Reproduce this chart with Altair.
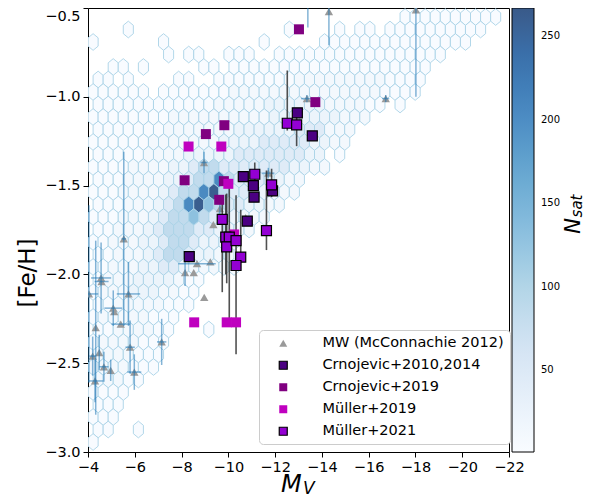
import altair as alt
import pandas as pd

# ---------------- hexbin background (cells) ----------------
HEX_X0 = -4.218      # M_V of the first column centre on odd rows
HEX_DX = 0.4303      # column spacing (M_V)
HEX_Y0 = -0.4803     # [Fe/H] of row 0
HEX_DY = 0.070383    # half-row spacing ([Fe/H])
HEX_LEVEL_COUNTS = {"1": 3, "2": 11, "3": 22, "4": 45, "5": 85,
                    "6": 130, "7": 205, "8": 235, "9": 262}
# (row, first column, levels) ; "." = empty cell
HEX_ROWS = [
    (1, 31, "1111111111"),
    (2, 3, "1...............1....1.11.1111111111"),
    (3, 0, "1......1.........1.....111111111111111"),
    (4, 7, "1.11..111..11111111111111111"),
    (5, 2, "11.1.....11.11111111111111111111"),
    (6, 0, "11.1....11..111111112222222221111"),
    (7, 0, "111111.11111112222222222222221111"),
    (8, 0, "11111111111122222333333222211.1"),
    (9, 0, "1111111122222222223333333222"),
    (10, 0, "11111112222222333333444222"),
    (11, 0, "11111122222223333444443322"),
    (12, 0, "11111222233333444444433.1"),
    (13, 0, "111122223345544444443322"),
    (14, 0, "111222233455754443322"),
    (15, 0, "111222234557954433222"),
    (16, 0, "1112223457965443322"),
    (17, 0, "111222345565433222"),
    (18, 0, "1122234555443322"),
    (19, 0, "112223345543322"),
    (20, 0, "11222345543322"),
    (21, 0, "112223344322211"),
    (22, 0, "12223333211"),
    (23, 0, "12223332211"),
    (24, 0, "1122222111"),
    (25, 0, "122222111"),
    (26, 0, "11222211...1"),
    (27, 0, "12222111"),
    (28, 0, "2222111"),
    (29, 0, "2222111"),
    (30, 0, "22211"),
    (31, 0, "1111"),
    (32, 0, "111"),
    (33, 0, "111"),
    (34, 0, "11..1"),
    (35, 0, "1"),
]

# ---------------- Milky Way satellites (McConnachie 2012) ----------------
MW_MV = [-18.02, -16.73, -14.30, -13.40, -13.36, -8.96, -11.71, -5.53, -9.64, -9.36,
         -10.74, -8.66, -9.23, -8.15, -8.52, -8.97, -4.56, -4.58, -5.73, -4.04,
         -5.08, -5.12, -5.40, -4.33, -5.80, -7.15, -4.48, -4.20, -4.68, -4.97,
         -4.30, -5.98]
MW_FEH = [-0.51, -1.01, -0.52, -0.45, -1.01, -1.37, -1.43, -1.80, -1.63, -1.72,
          -1.68, -1.94, -1.93, -1.99, -1.99, -2.13, -2.02, -2.04, -2.11, -2.11,
          -2.19, -2.21, -2.28, -2.30, -2.41, -2.38, -2.44, -2.46, -2.52, -2.54,
          -2.60, -2.55]
MW_MV_ERR = [0, 0.15, 0, 0, 0.25, 0.15, 0.26, 0.1, 0, 0,
             0.15, 0.8, 0, 0, 0, 0, 0.43, 0.3, 0.5, 0.4,
             0.38, 0, 0.4, 0, 0.2, 0.2, 0, 0.15, 0.2, 0,
             0.35, 0.3]
MW_FEH_ERR = [0.49, 0.02, 0.19, 0.16, 0.02, 0.06, 0.03, 0.49, 0.05, 0,
              0, 0, 0, 0.075, 0, 0, 0.2, 0, 0.18, 0.5,
              0.1, 0, 0, 0.49, 0.15, 0.13, 0.1, 0.11, 0.085, 0.06,
              0.12, 0.1]

# ---------------- other samples ----------------
C14_MV = [-10.64, -11.07, -11.10, -11.89, -12.95, -13.59, -10.81, -8.33]
C14_FEH = [-1.45, -1.50, -1.565, -1.53, -1.09, -1.22, -1.70, -1.90]

C19_MV = [-13.02, -13.72, -9.83, -9.04, -8.13, -9.61, -9.81]
C19_FEH = [-0.62, -1.03, -1.16, -1.21, -1.47, -1.58, -1.475]

M19_MV = [-8.30, -9.70, -8.54, -9.93, -10.33, -10.00, -10.25]
M19_FEH = [-1.28, -1.28, -2.27, -2.27, -2.27, -1.49, -1.775]

M21_MV = [-11.13, -11.85, -12.52, -12.92, -9.74, -9.89, -10.04, -9.93, -10.33, -10.53, -10.33, -11.63]
M21_FEH = [-1.436, -1.496, -1.149, -1.158, -1.69, -1.79, -1.79, -1.845, -1.81, -1.903, -1.95, -1.753]
M21_FEH_LO = [-1.51, -1.565, -1.19, -1.278, -2.10, -2.00, -2.29, -2.05, -1.81, -1.92, -2.45, -1.863]
M21_FEH_HI = [-1.37, -1.405, -0.852, -1.10, -1.60, -1.55, -1.47, -1.545, -1.81, -1.636, -1.555, -1.415]

SURVEYS = ["MW (McConnachie 2012)", "Crnojevic+2010,2014", "Crnojevic+2019", "Müller+2019", "Müller+2021"]
SURVEY_FILLS = ["#9a9a9a", "#4b0082", "#800080", "#bf00bf", "#9400d3"]
SURVEY_SHAPES = ["triangle-up", "square", "square", "square", "square"]
SURVEY_STROKES = ["transparent", "black", "transparent", "transparent", "black"]

X_TICKS = [-4, -6, -8, -10, -12, -14, -16, -18, -20, -22]
Y_TICKS = [-3.0, -2.5, -2.0, -1.5, -1.0, -0.5]
CBAR_TICKS = [50, 100, 150, 200, 250]
NSAT_DOMAIN = [1, 267]
# Blues colormap at alpha 0.8 over white
BLUES_ALPHA = ["#f9fcff", "#e5eff9", "#d1e2f2", "#b1d5e7", "#89bede",
               "#68a8d1", "#4d8dc4", "#3974b0", "#395a89"]

# ---------------- build tables ----------------
hex_records = []
for r, start, levels in HEX_ROWS:
    shift = 0.0 if r % 2 == 1 else HEX_DX / 2
    for k, ch in enumerate(levels):
        if ch == ".":
            continue
        col = start + k
        hex_records.append({"MV": HEX_X0 - shift - HEX_DX * col,
                            "FeH": HEX_Y0 - HEX_DY * r,
                            "N": HEX_LEVEL_COUNTS[ch]})
hex_df = pd.DataFrame(hex_records)

mw_df = pd.DataFrame({"MV": MW_MV, "FeH": MW_FEH, "survey": SURVEYS[0]})
mw_xerr = pd.DataFrame([{"MV": m - e, "MV2": m + e, "FeH": f}
                        for m, f, e in zip(MW_MV, MW_FEH, MW_MV_ERR) if e > 0])
mw_yerr = pd.DataFrame([{"MV": m, "FeH": f - e, "FeH2": f + e}
                        for m, f, e in zip(MW_MV, MW_FEH, MW_FEH_ERR) if e > 0])

sq_rows = []
for name, mvs, fehs in [(SURVEYS[1], C14_MV, C14_FEH), (SURVEYS[2], C19_MV, C19_FEH),
                        (SURVEYS[3], M19_MV, M19_FEH), (SURVEYS[4], M21_MV, M21_FEH)]:
    for m, f in zip(mvs, fehs):
        sq_rows.append({"MV": m, "FeH": f, "survey": name})
sq_df = pd.DataFrame(sq_rows)
sq_err = pd.DataFrame([{"MV": m, "FeH": lo, "FeH2": hi}
                       for m, lo, hi in zip(M21_MV, M21_FEH_LO, M21_FEH_HI) if hi > lo])

# ---------------- encodings ----------------
x_scale = alt.Scale(domain=[-22, -4], reverse=True, nice=False, zero=False)
y_scale = alt.Scale(domain=[-3.0, -0.5], nice=False, zero=False)
x_axis = alt.Axis(values=X_TICKS, format="d", title=None, grid=False,
                  labelFlush=False, labelOverlap=False)
y_axis = alt.Axis(values=Y_TICKS, format=".1f", title=None, grid=False,
                  labelFlush=False, labelOverlap=False,
                  labelOffset={"condition": {"test": "datum.value == -0.5", "value": 8},
                               "value": 0})


def X(field):
    return alt.X(f"{field}:Q", scale=x_scale, axis=x_axis)


def Y(field):
    return alt.Y(f"{field}:Q", scale=y_scale, axis=y_axis)


HEX_PATH = "M0,-1L0.604,-0.5L0.604,0.5L0,1L-0.604,0.5L-0.604,-0.5Z"

hexes = alt.Chart(hex_df).mark_point(
    shape=HEX_PATH, size=277.8, filled=True, opacity=1,
    stroke="#a9d2e6", strokeWidth=0.9, clip=True
).encode(
    x=X("MV"), y=Y("FeH"),
    fill=alt.Fill("N:Q",
                  scale=alt.Scale(domain=NSAT_DOMAIN, range=BLUES_ALPHA, clamp=True),
                  legend=alt.Legend(orient="none", legendX=424, legendY=0,
                                    direction="vertical", title=None,
                                    gradientLength=444, gradientThickness=22,
                                    values=CBAR_TICKS, labelFontSize=10,
                                    labelFont="DejaVu Sans", labelColor="black",
                                    labelOffset=7, padding=0,
                                    gradientStrokeColor="black", gradientStrokeWidth=1))
)

legend_def = alt.Legend(orient="none", legendX=171, legendY=322, title=None,
                        fillColor="white", strokeColor="#cccccc", cornerRadius=4,
                        padding=6, labelFontSize=14.5, labelFont="DejaVu Sans",
                        labelColor="black", labelLimit=300, symbolSize=64,
                        symbolOffset=11, labelOffset=32, rowPadding=7,
                        symbolStrokeWidth=1.2)

color_enc = alt.Color("survey:N", scale=alt.Scale(domain=SURVEYS, range=SURVEY_FILLS), legend=legend_def)
shape_enc = alt.Shape("survey:N", scale=alt.Scale(domain=SURVEYS, range=SURVEY_SHAPES), legend=legend_def)
stroke_enc = alt.Stroke("survey:N", scale=alt.Scale(domain=SURVEYS, range=SURVEY_STROKES), legend=legend_def)

mw_pts = alt.Chart(mw_df).mark_point(filled=True, size=70, opacity=1, strokeWidth=1.2, clip=True).encode(
    x=X("MV"), y=Y("FeH"), color=color_enc, shape=shape_enc, stroke=stroke_enc)

mw_xbars = alt.Chart(mw_xerr).mark_rule(color="#1f77b4", opacity=0.55, strokeWidth=1.5, clip=True).encode(
    x=X("MV"), x2="MV2:Q", y=Y("FeH"))
mw_ybars = alt.Chart(mw_yerr).mark_rule(color="#1f77b4", opacity=0.55, strokeWidth=1.5, clip=True).encode(
    x=X("MV"), y=Y("FeH"), y2="FeH2:Q")

sq_bars = alt.Chart(sq_err).mark_rule(color="#333333", opacity=0.85, strokeWidth=1.6, clip=True).encode(
    x=X("MV"), y=Y("FeH"), y2="FeH2:Q")

sq_pts = alt.Chart(sq_df).mark_point(filled=True, size=100, opacity=1, strokeWidth=1.2, clip=True).encode(
    x=X("MV"), y=Y("FeH"), color=color_enc, shape=shape_enc, stroke=stroke_enc)


def label(text, x, y, size, angle=0, italic=False, align="center", baseline="middle"):
    return alt.Chart(alt.Data(values=[{}])).mark_text(
        text=text, fontSize=size, font="DejaVu Sans",
        fontStyle="italic" if italic else "normal", angle=angle,
        align=align, baseline=baseline, color="black"
    ).encode(x=alt.value(x), y=alt.value(y))


labels = [
    label("[Fe/H]", -60, 265, 23, angle=270),
    label("M", 193, 484, 24, italic=True, align="left", baseline="alphabetic"),
    label("V", 215, 486, 17, italic=True, align="left", baseline="alphabetic"),
    label("N", 486, 218, 21, angle=270, italic=True),
    label("sat", 489, 198, 15, angle=270, italic=True),
]

chart = alt.layer(hexes, mw_pts, mw_xbars, mw_ybars, sq_bars, sq_pts, *labels).properties(
    width=421, height=444,
    padding={"left": 80, "top": 0, "right": 76, "bottom": 47},
    autosize=alt.AutoSizeParams(type="none"),
).configure_view(
    stroke="black", strokeWidth=1
).configure_axis(
    labelFont="DejaVu Sans", labelFontSize=14.5, labelColor="black",
    tickColor="black", tickSize=5, tickWidth=1, domain=False, grid=False, labelPadding=3
)

chart.save("out.html", embed_options={"renderer": "svg", "actions": False})
